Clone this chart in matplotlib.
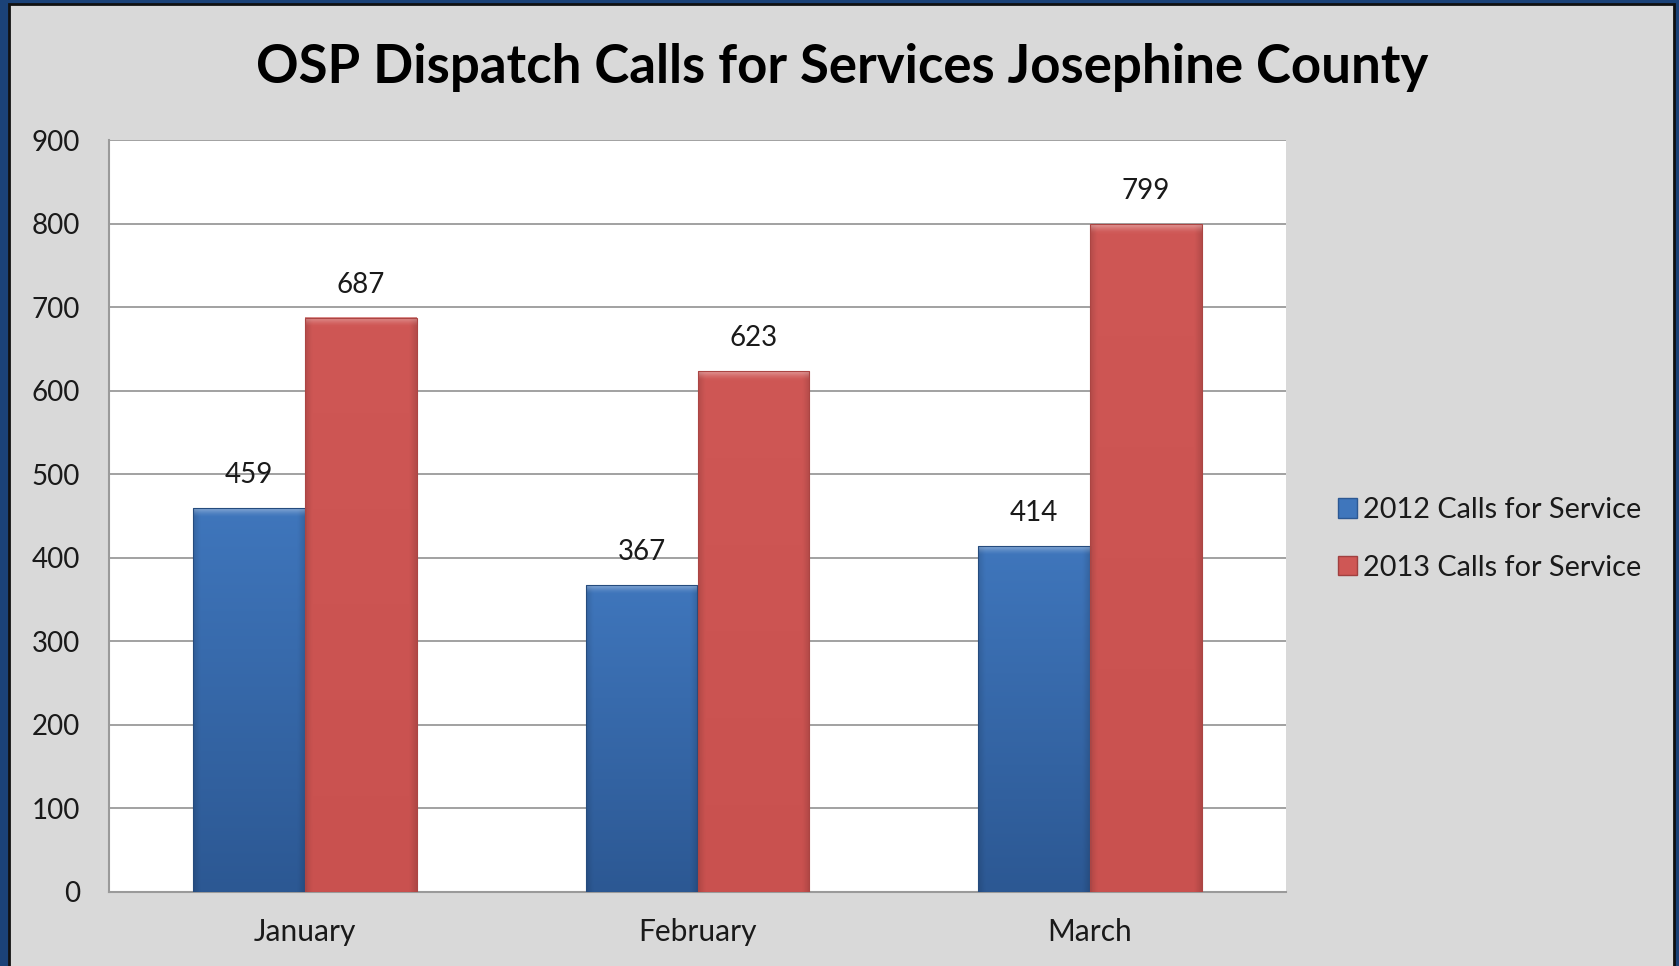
import numpy as np
import matplotlib
matplotlib.use("Agg")
from matplotlib import pyplot as plt
from matplotlib.patches import Rectangle
from matplotlib.colors import to_rgb

# Données
MONTHS = ["January", "February", "March"]
CALLS_2012 = [459, 367, 414]
CALLS_2013 = [687, 623, 799]
SERIES_LABELS = ["2012 Calls for Service", "2013 Calls for Service"]
Y_TICKS = [0, 100, 200, 300, 400, 500, 600, 700, 800, 900]
TITLE = "OSP Dispatch Calls for Services Josephine County"

# Couleurs (haut, bas) pour le dégradé des barres
BLUE_TOP, BLUE_BOTTOM = "#3F76BC", "#2C5893"
RED_TOP, RED_BOTTOM = "#CF5755", "#C9514F"

plt.rcParams["font.family"] = ["Lato", "DejaVu Sans"]

W, H, DPI = 1679, 966, 100
fig = plt.figure(figsize=(W / DPI, H / DPI), dpi=DPI)
fig.patch.set_facecolor("#D9D9D9")

# cadre bleu marine (gauche, haut, droite) + ligne noire
NAVY = "#1B4278"
fig.patches.append(Rectangle((0, 0), 9 / W, 1, transform=fig.transFigure,
                             facecolor=NAVY, edgecolor="none", zorder=10))
fig.patches.append(Rectangle((0, 1 - 4 / H), 1, 4 / H, transform=fig.transFigure,
                             facecolor=NAVY, edgecolor="none", zorder=10))
fig.patches.append(Rectangle((1 - 5 / W, 0), 5 / W, 1, transform=fig.transFigure,
                             facecolor=NAVY, edgecolor="none", zorder=10))
fig.patches.append(Rectangle((9 / W, -0.01), (1674 - 9) / W, (H - 4) / H + 0.01,
                             transform=fig.transFigure, fill=False,
                             edgecolor="#111111", linewidth=2, zorder=11))

ax = fig.add_axes([109 / W, (H - 892) / H, (1286 - 109) / W, (892 - 140) / H])
ax.set_facecolor("white")

x = np.arange(len(MONTHS))
width = 0.285


def gradient_bar(xc, value, top, bottom):
    """Barre avec dégradé vertical, bords assombris et biseau supérieur."""
    x0, x1 = xc - width / 2, xc + width / 2
    top, bottom = np.array(to_rgb(top)), np.array(to_rgb(bottom))
    ny, nx = 300, 60
    yy = np.linspace(value, 0, ny)[:, None]
    t = (1 - yy / max(value, 1))
    img = top[None, None, :] * (1 - t[..., None]) + bottom[None, None, :] * t[..., None]
    img = np.repeat(img, nx, axis=1)
    u = np.linspace(0, 1, nx)
    edge = 1 - 0.12 * np.clip(1 - np.minimum(u, 1 - u) / 0.06, 0, 1)
    img = img * edge[None, :, None]
    # biseau : bande claire en haut qui s'estompe
    bevel = 10.0
    depth = (value - yy) / bevel
    light = np.clip(1 - depth, 0, 1) ** 1.5 * 0.35
    img = img + (1 - img) * light[..., None]
    ax.imshow(np.clip(img, 0, 1), extent=(x0, x1, 0, value), origin="upper",
              aspect="auto", interpolation="bilinear", zorder=3)
    ax.add_patch(Rectangle((x0, 0), width, value, facecolor="none",
                           edgecolor=bottom * 0.85, linewidth=0.8, zorder=5))


for i in range(len(MONTHS)):
    gradient_bar(x[i] - width / 2, CALLS_2012[i], BLUE_TOP, BLUE_BOTTOM)
    gradient_bar(x[i] + width / 2, CALLS_2013[i], RED_TOP, RED_BOTTOM)
    for xc, v in ((x[i] - width / 2, CALLS_2012[i]), (x[i] + width / 2, CALLS_2013[i])):
        ax.annotate(str(v), (xc, v), xytext=(0, 24), textcoords="offset points",
                    ha="center", va="center", fontsize=20, color="#1A1A1A")

ax.set_xlim(-0.5, len(MONTHS) - 0.5)
ax.set_ylim(0, 900)
ax.set_yticks(Y_TICKS)
ax.set_yticklabels([str(v) for v in Y_TICKS])
ax.set_xticks(x)
ax.set_xticklabels(MONTHS)
ax.tick_params(axis="both", length=0, colors="#1A1A1A")
ax.tick_params(axis="y", pad=21, labelsize=20)
ax.tick_params(axis="x", pad=19, labelsize=21.5)
ax.yaxis.grid(True, color="#9A9A9A", linewidth=1.3, zorder=0)
ax.set_axisbelow(True)
for side in ["top", "right"]:
    ax.spines[side].set_visible(False)
for side in ["left", "bottom"]:
    ax.spines[side].set_color("#9A9A9A")
    ax.spines[side].set_linewidth(1.5)

# légende
handles = [Rectangle((0, 0), 1, 1, facecolor=BLUE_TOP, edgecolor="#2C5893"),
           Rectangle((0, 0), 1, 1, facecolor=RED_TOP, edgecolor="#A04040")]
fig.legend(handles, SERIES_LABELS, loc="center left", bbox_to_anchor=(1312 / W, 1 - 539 / H),
           frameon=False, fontsize=20.8, handlelength=0.65, handleheight=0.65,
           handletextpad=0.2, labelspacing=1.1, labelcolor="#1A1A1A")

fig.text(842 / W, 1 - 67 / H, TITLE, ha="center", va="center",
         fontsize=38, fontweight="bold", color="black")

fig.savefig("out.png", dpi=DPI, facecolor=fig.get_facecolor())
